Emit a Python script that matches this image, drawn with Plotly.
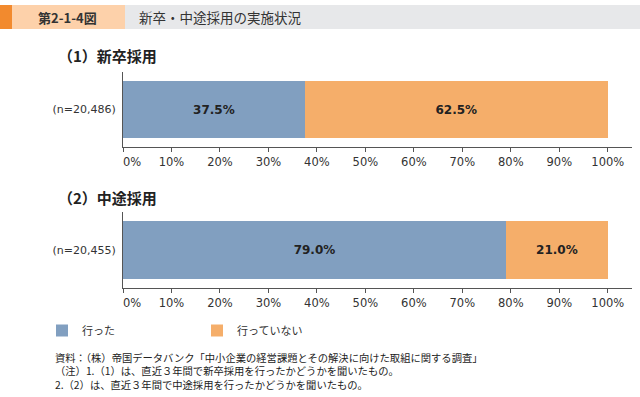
import plotly.graph_objects as go

W, H = 640, 397

panels = ["（1）新卒採用", "（2）中途採用"]
sample_labels = ["(n=20,486)", "(n=20,455)"]
series_names = ["行った", "行っていない"]
did_values = [37.5, 79.0]
did_not_values = [62.5, 21.0]
tick_vals = [0, 10, 20, 30, 40, 50, 60, 70, 80, 90, 100]
tick_text = ["\u00a0" * 5 + "0%"] + [f"{v}%" for v in tick_vals[1:]]

header_no = "第2-1-4図"
header_title = "新卒・中途採用の実施状況"
notes = [
    "資料：（株）帝国データバンク「中小企業の経営課題とその解決に向けた取組に関する調査」",
    "（注）1.（1）は、直近３年間で新卒採用を行ったかどうかを聞いたもの。",
    "2.（2）は、直近３年間で中途採用を行ったかどうかを聞いたもの。",
]

colors = ["#819FC0", "#F5AE6A"]
JP = "Noto Sans CJK JP"
LAT = "DejaVu Sans, Noto Sans CJK JP"


def px_x(x):
    return x / W


def px_y(y):
    return 1 - y / H


fig = go.Figure()
series_values = [did_values, did_not_values]
for p in range(2):
    xa = "x" if p == 0 else "x2"
    ya = "y" if p == 0 else "y2"
    for s in range(2):
        fig.add_trace(go.Bar(
            x=[series_values[s][p]], y=[sample_labels[p]],
            orientation="h", name=series_names[s],
            marker=dict(color=colors[s], line=dict(width=0)),
            text=[f"{series_values[s][p]:.1f}%"], textposition="inside",
            insidetextanchor="middle",
            textfont=dict(family=LAT, size=12, color="#222222"),
            texttemplate="<b>%{text}</b>",
            width=0.77, showlegend=(p == 0),
            xaxis=xa, yaxis=ya, hoverinfo="skip",
        ))

xdom = [px_x(123), px_x(632)]
axis_common = dict(
    range=[0, 105], tickvals=tick_vals, ticktext=tick_text,
    showgrid=False, zeroline=False, showline=True, linecolor="#555555",
    linewidth=1, ticks="outside", ticklen=4, tickcolor="#555555",
    tickfont=dict(family=LAT, size=11.5, color="#333333"),
    fixedrange=True, automargin=False,
)
yaxis_common = dict(
    showgrid=False, zeroline=False, showline=True, linecolor="#555555",
    linewidth=1, ticks="", range=[-0.5, 0.5],
    tickfont=dict(family=LAT, size=11, color="#333333"),
    ticklabelstandoff=4, fixedrange=True, automargin=False,
)

fig.update_layout(
    width=W, height=H, margin=dict(l=0, r=0, t=0, b=0, autoexpand=False),
    paper_bgcolor="white", plot_bgcolor="white",
    barmode="stack",
    xaxis=dict(domain=xdom, anchor="y", **axis_common),
    yaxis=dict(domain=[px_y(147), px_y(72)], anchor="x", **yaxis_common),
    xaxis2=dict(domain=xdom, anchor="y2", **axis_common),
    yaxis2=dict(domain=[px_y(288), px_y(212)], anchor="x2", **yaxis_common),
    legend=dict(orientation="h", x=px_x(42), y=px_y(316), xanchor="left",
                yanchor="top", entrywidth=110, entrywidthmode="pixels",
                itemwidth=30, font=dict(family=JP, size=11, color="#333333"),
                bgcolor="rgba(0,0,0,0)", traceorder="normal"),
    font=dict(family=JP),
)

shapes = [
    dict(type="rect", xref="paper", yref="paper", x0=px_x(0), x1=px_x(125),
         y0=px_y(29), y1=px_y(5), fillcolor="#FDD1AA", line=dict(width=0), layer="below"),
    dict(type="rect", xref="paper", yref="paper", x0=px_x(0), x1=px_x(12),
         y0=px_y(29), y1=px_y(5), fillcolor="#F28A2E", line=dict(width=0), layer="below"),
    dict(type="rect", xref="paper", yref="paper", x0=px_x(125), x1=px_x(640),
         y0=px_y(29), y1=px_y(5), fillcolor="#E7E8EA", line=dict(width=0), layer="below"),
]
fig.update_layout(shapes=shapes)

annotations = [
    dict(text=f"<b>{header_no}</b>", x=px_x(36), y=px_y(17), xanchor="left",
         yanchor="middle", font=dict(family=JP, size=13, color="#333333"),
         showarrow=False, xref="paper", yref="paper"),
    dict(text=header_title, x=px_x(137), y=px_y(17), xanchor="left", yanchor="middle",
         font=dict(family=JP, size=13.5, color="#333333"), showarrow=False,
         xref="paper", yref="paper"),
    dict(text=f"<b>{panels[0]}</b>", x=px_x(56), y=px_y(55), xanchor="left",
         yanchor="middle", font=dict(family=JP, size=15, color="#222222"),
         showarrow=False, xref="paper", yref="paper"),
    dict(text=f"<b>{panels[1]}</b>", x=px_x(56), y=px_y(197), xanchor="left",
         yanchor="middle", font=dict(family=JP, size=15, color="#222222"),
         showarrow=False, xref="paper", yref="paper"),
    dict(text="<br>".join(notes), x=px_x(54), y=px_y(370.5), xanchor="left",
         yanchor="middle", align="left",
         font=dict(family=JP, size=10.3, color="#222222"),
         showarrow=False, borderpad=0, xref="paper", yref="paper"),
]
fig.update_layout(annotations=annotations)

fig.write_html("out.html", post_script="document.body.style.margin='0';",
               config={"displayModeBar": False})
